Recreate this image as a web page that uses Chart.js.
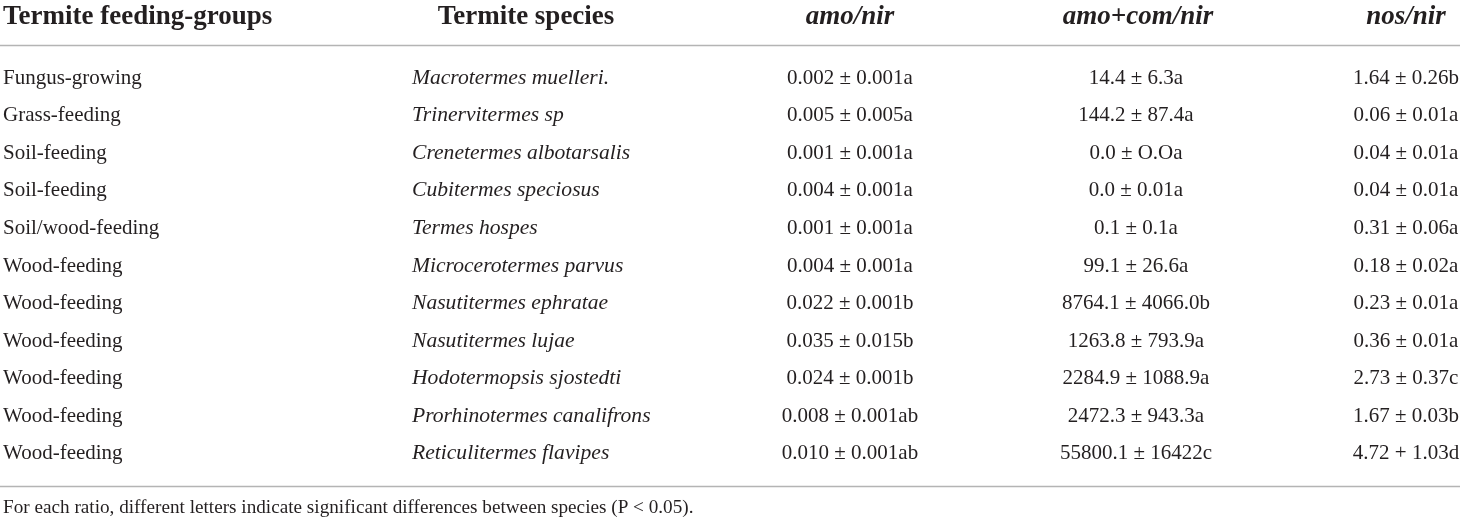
<!DOCTYPE html>
<html>
<head>
<meta charset="utf-8">
<script src="https://cdn.jsdelivr.net/npm/chart.js@4/dist/chart.umd.min.js"></script>
<style>
  html, body { margin: 0; padding: 0; background: #fff; }
  #wrap { width: 1460px; height: 520px; }
</style>
</head>
<body>
<div id="wrap"><canvas id="tbl"></canvas></div>
<script>
// table content
const headers = ["Termite feeding-groups", "Termite species", "amo/nir", "amo+com/nir", "nos/nir"];
const feedingGroups = [
  "Fungus-growing", "Grass-feeding", "Soil-feeding", "Soil-feeding", "Soil/wood-feeding",
  "Wood-feeding", "Wood-feeding", "Wood-feeding", "Wood-feeding", "Wood-feeding", "Wood-feeding"
];
const species = [
  "Macrotermes muelleri.", "Trinervitermes sp", "Crenetermes albotarsalis", "Cubitermes speciosus",
  "Termes hospes", "Microcerotermes parvus", "Nasutitermes ephratae", "Nasutitermes lujae",
  "Hodotermopsis sjostedti", "Prorhinotermes canalifrons", "Reticulitermes flavipes"
];
const amoNir = [
  "0.002 ± 0.001a", "0.005 ± 0.005a", "0.001 ± 0.001a", "0.004 ± 0.001a", "0.001 ± 0.001a",
  "0.004 ± 0.001a", "0.022 ± 0.001b", "0.035 ± 0.015b", "0.024 ± 0.001b", "0.008 ± 0.001ab",
  "0.010 ± 0.001ab"
];
const amoComNir = [
  "14.4 ± 6.3a", "144.2 ± 87.4a", "0.0 ± O.Oa", "0.0 ± 0.01a", "0.1 ± 0.1a", "99.1 ± 26.6a",
  "8764.1 ± 4066.0b", "1263.8 ± 793.9a", "2284.9 ± 1088.9a", "2472.3 ± 943.3a", "55800.1 ± 16422c"
];
const nosNir = [
  "1.64 ± 0.26b", "0.06 ± 0.01a", "0.04 ± 0.01a", "0.04 ± 0.01a", "0.31 ± 0.06a", "0.18 ± 0.02a",
  "0.23 ± 0.01a", "0.36 ± 0.01a", "2.73 ± 0.37c", "1.67 ± 0.03b", "4.72 + 1.03d"
];
const footnote = "For each ratio, different letters indicate significant differences between species (P < 0.05).";

const columns = [feedingGroups, species, amoNir, amoComNir, nosNir];

// layout of the columns (x anchor on the 0..1460 scale, alignment, style)
const colX = [3, 412, 850, 1136, 1406];
const colAlign = ["left", "left", "center", "center", "center"];
const headX = [3, 526, 850, 1138, 1406];
const headAlign = ["left", "center", "center", "center", "center"];
const headStyle = ["bold", "bold", "italic bold", "italic bold", "italic bold"];
const cellStyle = ["", "italic", "", "", ""];
const cellSize = [21, 21.6, 21, 21, 21];

const SERIF = '"Liberation Serif", "Times New Roman", serif';
const INK = "#231f20";
const RULE = "#b4b4b4";

const tablePlugin = {
  id: "tableText",
  afterDraw(chart) {
    const ctx = chart.ctx;
    const xs = chart.scales.x;
    const ys = chart.scales.y;
    ctx.save();
    ctx.fillStyle = INK;
    ctx.textBaseline = "alphabetic";

    // header row
    headers.forEach((h, c) => {
      ctx.font = headStyle[c] + " 27px " + SERIF;
      ctx.textAlign = headAlign[c];
      ctx.fillText(h, xs.getPixelForValue(headX[c]), 24);
    });

    // body cells
    columns.forEach((col, c) => {
      ctx.font = (cellStyle[c] ? cellStyle[c] + " " : "") + cellSize[c] + "px " + SERIF;
      ctx.textAlign = colAlign[c];
      col.forEach((txt, r) => {
        ctx.fillText(txt, xs.getPixelForValue(colX[c]), ys.getPixelForValue(r) + 6);
      });
    });

    // rules
    ctx.strokeStyle = RULE;
    ctx.lineWidth = 1.4;
    ctx.beginPath();
    ctx.moveTo(xs.left, 45.5);
    ctx.lineTo(xs.right, 45.5);
    ctx.moveTo(xs.left, 486.5);
    ctx.lineTo(xs.right, 486.5);
    ctx.stroke();

    // footnote
    ctx.font = "19.2px " + SERIF;
    ctx.textAlign = "left";
    ctx.fillText(footnote, xs.getPixelForValue(3), 513);
    ctx.restore();
  }
};

new Chart(document.getElementById("tbl"), {
  type: "scatter",
  data: {
    labels: feedingGroups.map((_, i) => i),
    datasets: columns.map((col, c) => ({
      data: col.map((_, r) => ({ x: colX[c], y: r })),
      pointRadius: 0,
      pointHoverRadius: 0
    }))
  },
  options: {
    responsive: true,
    maintainAspectRatio: false,
    animation: false,
    events: [],
    layout: { padding: { top: 59, bottom: 48, left: 0, right: 0 } },
    plugins: { legend: { display: false }, tooltip: { enabled: false } },
    scales: {
      x: { type: "linear", min: 0, max: 1460, display: false },
      y: { type: "linear", min: -0.5, max: 10.5, reverse: true, display: false }
    }
  },
  plugins: [tablePlugin]
});
</script>
</body>
</html>
